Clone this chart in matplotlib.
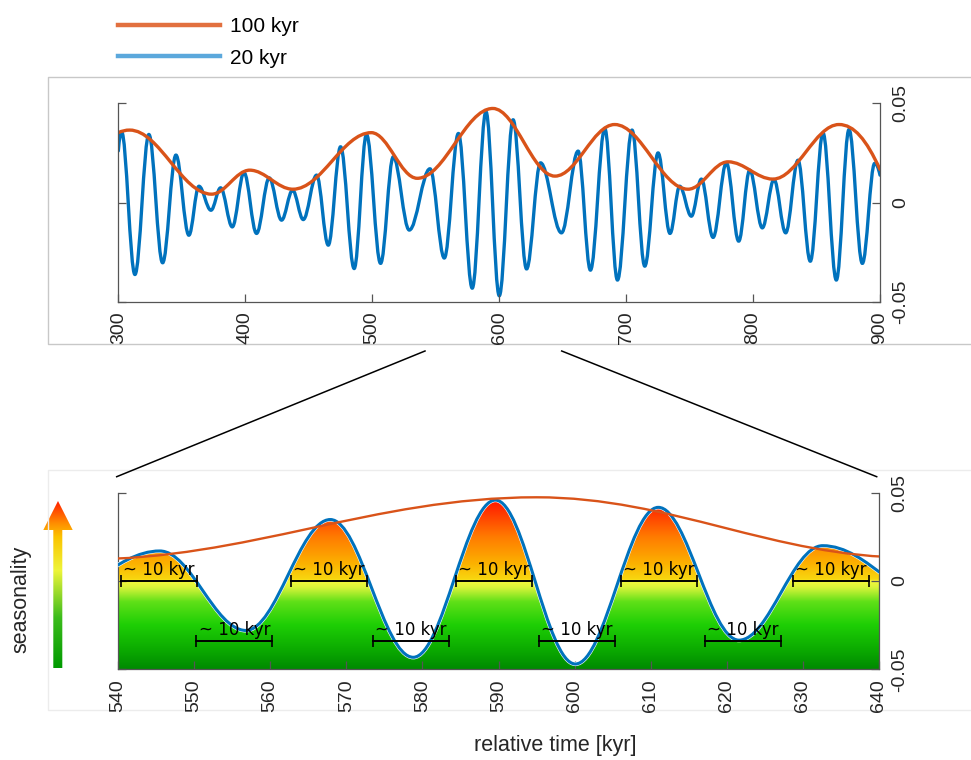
import numpy as np
import matplotlib
matplotlib.use('Agg')
import matplotlib.pyplot as plt
from matplotlib.path import Path
from matplotlib.patches import PathPatch, Polygon
from matplotlib.colors import LinearSegmentedColormap
from matplotlib.lines import Line2D

plt.rcParams['font.family'] = ['Liberation Sans', 'DejaVu Sans']

# ---------------- data ----------------
# 20 kyr signal: start point, successive extrema, end point
blue_t = [300, 302.6, 313.1, 324.1, 334.9, 345.4, 355.6, 363.5, 373.0, 380.6,
          389.8, 399.0, 408.9, 418.9, 428.6, 437.3, 445.7, 456.2, 465.4, 475.1,
          485.8, 495.5, 506.6, 516.6, 529.2, 545.5, 556.8, 567.9, 578.8, 589.6,
          600.1, 611.0, 621.6, 632.6, 649.1, 662.2, 671.9, 683.2, 693.2, 704.7,
          714.7, 725.2, 734.6, 742.2, 751.4, 759.3, 768.5, 779.0, 788.7, 797.4,
          807.3, 816.5, 825.7, 835.4, 845.1, 855.1, 865.6, 875.6, 886.1, 895.8, 900]
blue_v = [0.026, 0.0356, -0.0363, 0.0343, -0.0304, 0.0239, -0.0165, 0.0082, -0.0039, 0.0074,
          -0.0123, 0.0151, -0.0156, 0.0124, -0.0089, 0.0062, -0.0086, 0.0138, -0.0215, 0.0281,
          -0.0333, 0.0343, -0.0307, 0.0230, -0.0139, 0.0170, -0.0280, 0.0348, -0.0432, 0.0458,
          -0.0470, 0.0417, -0.0335, 0.0200, -0.0153, 0.0259, -0.0341, 0.0373, -0.0391, 0.0365,
          -0.0321, 0.0250, -0.0156, 0.0082, -0.0069, 0.0118, -0.0176, 0.0200, -0.0195, 0.0163,
          -0.0128, 0.0116, -0.0153, 0.0213, -0.0296, 0.0351, -0.0391, 0.0368, -0.0307, 0.0197, 0.0138]
# 100 kyr envelope: start point, extrema, end point
orange_t = [300, 309, 373.5, 403.5, 437.6, 499.3, 535.5, 595.0, 644.0, 691.0,
            748.8, 780.3, 815.7, 867.7, 900]
orange_v = [0.0352, 0.0365, 0.0042, 0.0163, 0.0067, 0.0352, 0.0122, 0.0474, 0.0133, 0.0393,
            0.0067, 0.0205, 0.0118, 0.0393, 0.0166]

top_xticks = [300, 400, 500, 600, 700, 800, 900]
bottom_xticks = [540, 550, 560, 570, 580, 590, 600, 610, 620, 630, 640]
yticks = [-0.05, 0, 0.05]
ytick_labels = ['-0.05', '0', '0.05']

upper_bracket_starts = [540.4, 562.7, 584.4, 606.1, 628.7]
lower_bracket_starts = [550.3, 573.5, 595.3, 617.1]
bracket_span = 10
upper_bracket_level = 0.0
lower_bracket_level = -0.034
bracket_label = '~ 10 kyr'
legend_labels = ['100 kyr', '20 kyr']

BLUE = '#0072bd'
ORANGE = '#d95319'
AXC = '#555555'
TXT = '#262626'


def extrema_path(t, v, k=0.363):
    """Smooth cubic Bezier path through extrema (horizontal tangents at extrema)."""
    verts = [(t[0], v[0])]
    codes = [Path.MOVETO]
    n = len(t)
    for i in range(n - 1):
        t0, v0, t1, v1 = t[i], v[i], t[i + 1], v[i + 1]
        dx = t1 - t0
        c1 = (t0 + dx / 3, v0 + (v1 - v0) * 2 / 3) if i == 0 else (t0 + k * dx, v0)
        c2 = (t1 - dx / 3, v1 + (v0 - v1) * 2 / 3) if i == n - 2 else (t1 - k * dx, v1)
        verts += [c1, c2, (t1, v1)]
        codes += [Path.CURVE4] * 3
    return verts, codes


def style(ax, xticks):
    ax.spines['top'].set_visible(False)
    for s in ['left', 'right', 'bottom']:
        ax.spines[s].set_color(AXC)
        ax.spines[s].set_linewidth(0.9)
    ax.set_xticks(xticks)
    ax.set_xticklabels([str(x) for x in xticks], rotation=90)
    ax.set_yticks(yticks)
    ax.set_yticklabels(ytick_labels, rotation=90, va='center')
    ax.tick_params(axis='y', left=True, right=True, labelleft=False, labelright=True,
                   direction='in', length=6, width=0.9, color=AXC, labelcolor=TXT,
                   labelsize=14, pad=9)
    ax.tick_params(axis='x', top=False, direction='in', length=6, width=0.9, color=AXC,
                   labelcolor=TXT, labelsize=14, pad=7)
    ax.set_ylim(-0.05, 0.05)


fig = plt.figure(figsize=(9.71, 7.6), dpi=100)

# overlay in pixel coordinates for frames, connectors and the arrow
ov = fig.add_axes([0, 0, 1, 1], zorder=-1)
ov.set_xlim(0, 971)
ov.set_ylim(760, 0)
ov.axis('off')
ov.plot([971, 48, 48, 971], [77.3, 77.3, 344, 344], color='#c8c8c8', lw=1)
ov.plot([971, 48, 48, 971], [470, 470, 710, 710], color='#ececec', lw=1)
ov.plot([116.7, 425], [476.7, 351], color='black', lw=1.1)
ov.plot([561.7, 876.7], [351, 476.7], color='black', lw=1.1)

arrow_cmap = LinearSegmentedColormap.from_list(
    'arrow', [(0.0, '#009a00'), (0.3, '#3cbc1c'), (0.58, '#eef53a'),
              (0.78, '#fbc400'), (0.86, '#ff9000'), (1.0, '#ff1a00')])
arrow_poly = Polygon([(53.3, 668), (62.3, 668), (62.3, 530), (72.7, 530), (58, 501),
                      (43.3, 530), (53.3, 530)], closed=True, facecolor='none', edgecolor='none')
ov.add_patch(arrow_poly)
aim = ov.imshow(np.linspace(0, 1, 256).reshape(-1, 1), cmap=arrow_cmap, origin='lower',
                extent=[43, 73, 668, 500], aspect='auto', interpolation='bilinear')
aim.set_clip_path(arrow_poly)
ov.set_xlim(0, 971)
ov.set_ylim(760, 0)

# ---------------- top panel ----------------
ax1 = fig.add_axes([118.3 / 971, 1 - 301.7 / 760, 761.7 / 971, 198.4 / 760])
bverts, bcodes = extrema_path(blue_t, blue_v)
overts, ocodes = extrema_path(orange_t, orange_v)
ax1.add_patch(PathPatch(Path(bverts, bcodes), facecolor='none', edgecolor=BLUE, lw=2.4,
                        capstyle='round', joinstyle='round'))
ax1.add_patch(PathPatch(Path(overts, ocodes), facecolor='none', edgecolor=ORANGE, lw=2.4,
                        capstyle='round', joinstyle='round'))
ax1.set_xlim(300, 900)
style(ax1, top_xticks)

# ---------------- bottom panel ----------------
ax2 = fig.add_axes([118 / 971, 1 - 669.3 / 760, 761 / 971, 176.6 / 760])
ax2.set_xlim(540, 640)
grad_cmap = LinearSegmentedColormap.from_list(
    'season', [(0.0, '#008a00'), (0.1, '#0aa800'), (0.25, '#1ecf05'), (0.38, '#60e018'),
               (0.46, '#d8f43a'), (0.5, '#f8f83c'), (0.505, '#f8d810'), (0.6, '#fcb000'),
               (0.75, '#ff7a00'), (0.9, '#ff3000'), (1.0, '#ff0000')])
fill_path = Path(bverts + [(blue_t[-1], -0.06), (blue_t[0], -0.06), (blue_t[0], blue_v[0])],
                 bcodes + [Path.LINETO, Path.LINETO, Path.CLOSEPOLY])
fill_patch = PathPatch(fill_path, facecolor='none', edgecolor='none')
ax2.add_patch(fill_patch)
gim = ax2.imshow(np.linspace(0, 1, 512).reshape(-1, 1), cmap=grad_cmap, origin='lower',
                 extent=[540, 640, -0.05, 0.05], aspect='auto', interpolation='bilinear', zorder=1)
gim.set_clip_path(fill_patch)

ax2.add_patch(PathPatch(Path(bverts, bcodes), facecolor='none', edgecolor='white', lw=3.0, zorder=4))
ax2.add_patch(PathPatch(Path(bverts, bcodes), facecolor='none', edgecolor=BLUE, lw=2.2, zorder=5))
ax2.add_patch(PathPatch(Path(overts, ocodes), facecolor='none', edgecolor=ORANGE, lw=1.7, zorder=5))

for s in upper_bracket_starts:
    ax2.plot([s, s + bracket_span], [upper_bracket_level] * 2, color='black', lw=1.4,
             marker='|', markersize=9, markeredgewidth=1.2, zorder=6)
    ax2.text(s + 0.3, upper_bracket_level + 0.0012, bracket_label, family='DejaVu Sans',
             fontsize=12, ha='left', va='bottom', zorder=7)
for s in lower_bracket_starts:
    ax2.plot([s, s + bracket_span], [lower_bracket_level] * 2, color='black', lw=1.4,
             marker='|', markersize=9, markeredgewidth=1.2, zorder=6)
    ax2.text(s + 0.3, lower_bracket_level + 0.0012, bracket_label, family='DejaVu Sans',
             fontsize=12, ha='left', va='bottom', zorder=7)

ax2.set_xlim(540, 640)
style(ax2, bottom_xticks)

# ---------------- texts & legend ----------------
fig.text(555 / 971, 1 - 745 / 760, 'relative time [kyr]', ha='center', va='center',
         fontsize=15.5, color=TXT)
fig.text(20.7 / 971, 1 - 599 / 760, 'seasonality', ha='center', va='center',
         rotation=90, fontsize=15.5, color=TXT)

handles = [Line2D([], [], color='#e2703f', lw=3.2), Line2D([], [], color='#5ba8dc', lw=3.2)]
fig.legend(handles=handles, labels=legend_labels, loc='upper left',
           bbox_to_anchor=(117.7 / 971, 1 - 17 / 760), frameon=False, fontsize=15,
           handlelength=4.9, handletextpad=0.5, labelspacing=0.6, borderpad=0,
           borderaxespad=0)

fig.savefig('out.png', dpi=100)
